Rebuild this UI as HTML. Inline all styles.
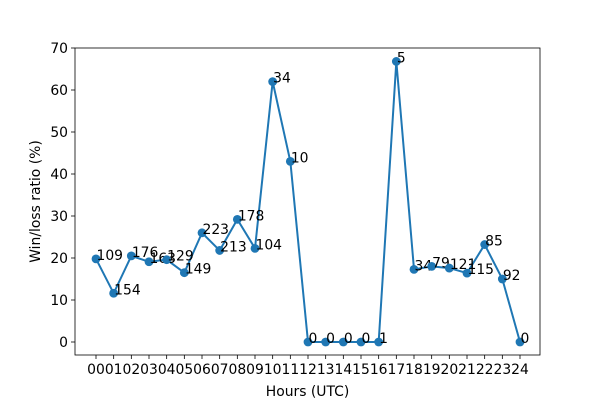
<!DOCTYPE html>
<html><head><meta charset="utf-8"><style>
body{margin:0;background:#fff}
svg{font-family:"DejaVu Sans","Liberation Sans",sans-serif}
</style></head><body>
<svg id="chart" width="600" height="400" xmlns="http://www.w3.org/2000/svg">
<rect width="600" height="400" fill="#fff"/>
<g id="plot"></g>
</svg>
<script>
const hours=["00","01","02","03","04","05","06","07","08","09","10","11","12","13","14","15","16","17","18","19","20","21","22","23","24"];
const ratios=[19.8,11.6,20.5,19.1,19.6,16.5,26,21.8,29.2,22.3,62,43,0,0,0,0,0,66.8,17.3,18,17.6,16.4,23.2,15,0];
const counts=[109,154,176,163,129,149,223,213,178,104,34,10,0,0,0,0,1,5,34,79,121,115,85,92,0];
const yTicks=[0,10,20,30,40,50,60,70];
const L=75,R=540,T=48,B=355;
const x=i=>96+i*(520-96)/24;
const y=v=>342-v*(342-48)/70;
const ns="http://www.w3.org/2000/svg";
const g=document.getElementById('plot');
function mk(t,a,p){const e=document.createElementNS(ns,t);for(const k in a)e.setAttribute(k,a[k]);(p||g).appendChild(e);return e;}
yTicks.forEach(v=>{
 const tk=mk('line',{x1:L-4,x2:L,y1:y(v),y2:y(v),stroke:'#000','stroke-width':0.8});
 
 
 const t=mk('text',{x:L-7,y:y(v)+5,'font-size':13.9,'text-anchor':'end'});t.textContent=v;
 
 
});
hours.forEach((h,i)=>{
 const tk=mk('line',{x1:x(i),x2:x(i),y1:B,y2:B+4,stroke:'#000','stroke-width':0.8});
 
 
 const t=mk('text',{x:x(i),y:B+19,'font-size':13.9,'text-anchor':'middle'});t.textContent=h;
 
 
});
const line=mk('polyline',{points:ratios.map((v,i)=>x(i)+','+y(v)).join(' '),fill:'none',stroke:'#1f77b4','stroke-width':2});


ratios.forEach((v,i)=>{
 const c=mk('circle',{cx:x(i),cy:y(v),r:4.4,fill:'#1f77b4'});
 
 
 const t=mk('text',{x:x(i)+0.5,y:y(v)+1,'font-size':13.9});t.textContent=counts[i];
 
 
});
const f=mk('rect',{x:L,y:T,width:R-L,height:B-T,fill:'none',stroke:'#000','stroke-width':0.8});


const xl=mk('text',{x:(L+R)/2,y:396,'font-size':13.9,'text-anchor':'middle'});xl.textContent='Hours (UTC)';


const yl=mk('text',{x:0,y:0,'font-size':13.9,'text-anchor':'middle',transform:`translate(40,${(T+B)/2}) rotate(-90)`});yl.textContent='Win/loss ratio (%)';


</script>
</body></html>
